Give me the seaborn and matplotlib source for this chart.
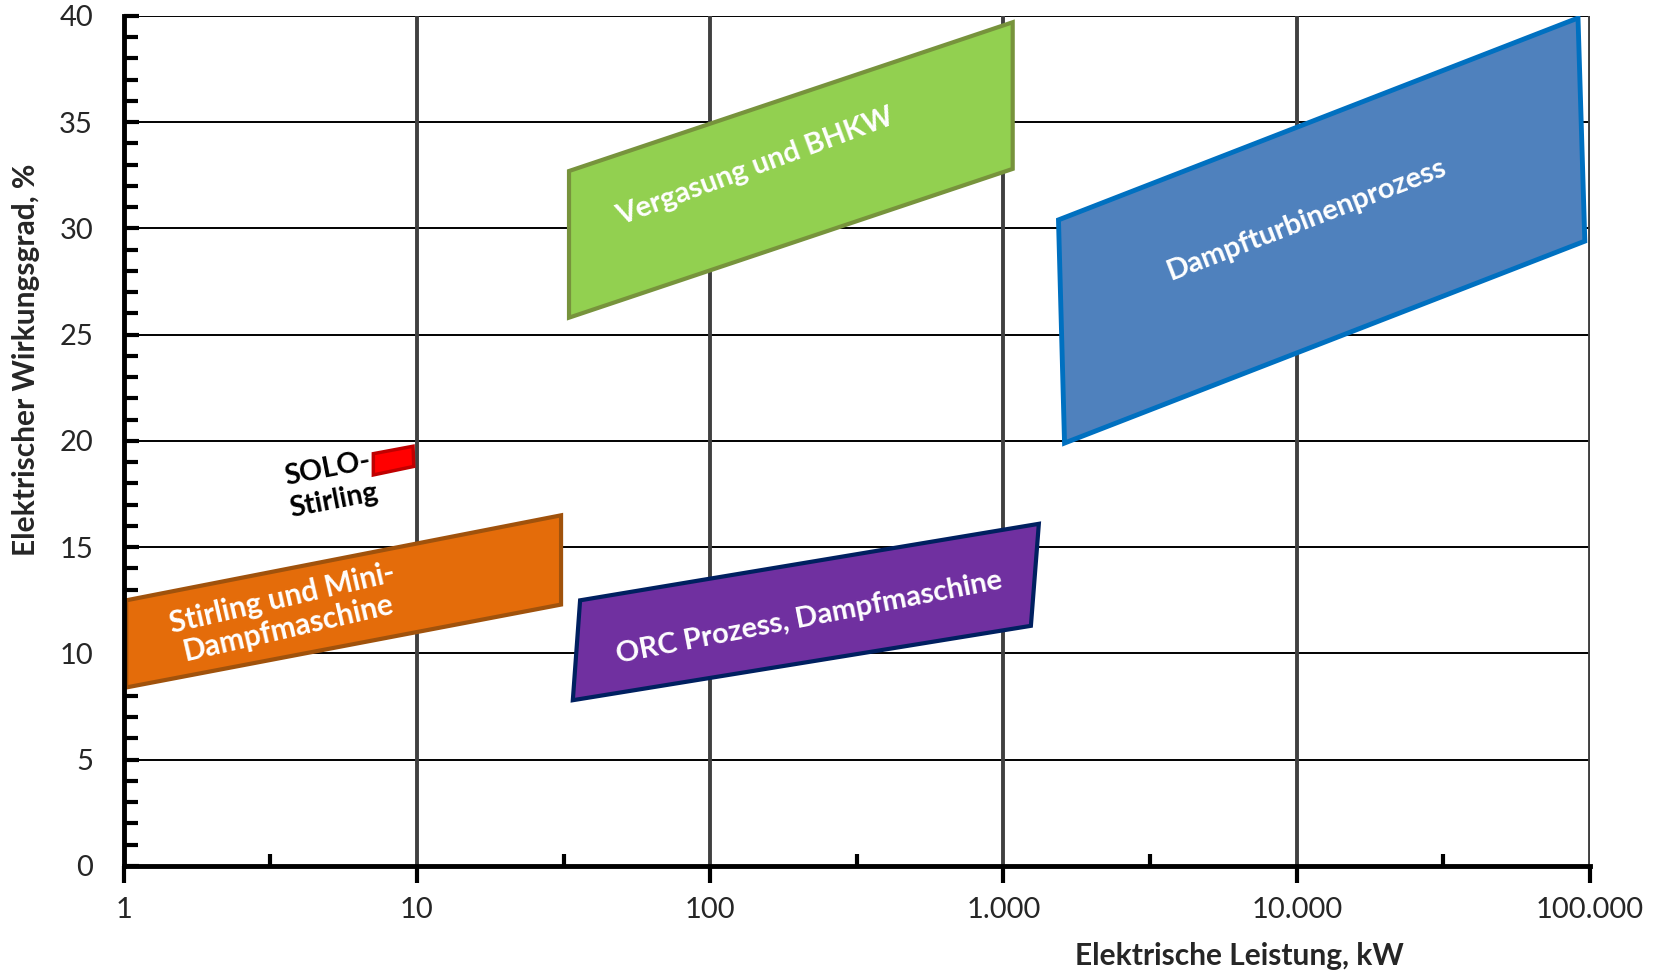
import numpy as np
import pandas as pd
import matplotlib
matplotlib.use("Agg")
import matplotlib.pyplot as plt
from matplotlib.ticker import FixedLocator, NullFormatter
import seaborn as sns

# Power range (kW) and electrical efficiency (%) of each conversion technology,
# given as the four corners of its area
stirling_kw = [1.02, 31.0, 31.0, 1.02]
stirling_eff = [12.5, 16.5, 12.3, 8.4]

vergasung_kw = [33.0, 1075.0, 1075.0, 33.0]
vergasung_eff = [32.7, 39.7, 32.8, 25.8]

dampfturbine_kw = [1540.0, 91000.0, 96000.0, 1615.0]
dampfturbine_eff = [30.4, 39.9, 29.4, 19.9]

orc_kw = [36.0, 1320.0, 1240.0, 34.0]
orc_eff = [12.5, 16.1, 11.3, 7.8]

solo_kw = [7.1, 9.7, 9.75, 7.1]
solo_eff = [19.4, 19.75, 18.8, 18.4]

x_ticks = [1, 10, 100, 1000, 10000, 100000]
x_tick_labels = ["1", "10", "100", "1.000", "10.000", "100.000"]
y_ticks = [0, 5, 10, 15, 20, 25, 30, 35, 40]

sns.set_theme(style="white")
plt.rcParams["font.family"] = ["Lato", "DejaVu Sans"]

fig = plt.figure(figsize=(16.58, 9.74), dpi=100)
ax = fig.add_axes([0.0746, 0.1109, 0.8844, 0.8728])

ax.set_xscale("log")
ax.set_xlim(1, 100000)
ax.set_ylim(0, 40)

# grid: thin black horizontals, heavier grey verticals at each decade
for y in y_ticks[1:]:
    ax.axhline(y, color="black", lw=1.4, zorder=1)
for x in x_ticks[1:]:
    ax.axvline(x, color="#404040", lw=2.8, zorder=1)

areas = pd.DataFrame({
    "name": ["Stirling", "Vergasung", "Dampfturbine", "ORC", "SOLO"],
    "kw": [stirling_kw, vergasung_kw, dampfturbine_kw, orc_kw, solo_kw],
    "eff": [stirling_eff, vergasung_eff, dampfturbine_eff, orc_eff, solo_eff],
    "face": ["#E46C0A", "#92D050", "#4F81BD", "#7030A0", "#FF0000"],
    "edge": ["#A0520C", "#77933C", "#0070C0", "#002060", "#C00000"],
    "lw": [3.0, 3.0, 3.5, 3.0, 2.5],
})
for _, r in areas.iterrows():
    ax.fill(r["kw"], r["eff"], facecolor=r["face"], edgecolor=r["edge"],
            lw=r["lw"], joinstyle="miter", zorder=3)

label_kw = dict(ha="center", va="center", rotation_mode="anchor",
                fontweight="bold", zorder=4)
ax.text(142, 32.9, "Vergasung und BHKW", rotation=20.3, color="white",
        fontsize=21, **label_kw)
ax.text(10800, 30.4, "Dampfturbinenprozess", rotation=21, color="white",
        fontsize=21, **label_kw)
ax.text(217, 11.7, "ORC Prozess, Dampfmaschine", rotation=11, color="white",
        fontsize=21, **label_kw)
ax.text(3.56, 11.9, "Stirling und Mini-\nDampfmaschine", rotation=13,
        color="white", fontsize=21.5, linespacing=1.1, **label_kw)
ax.text(5.09, 17.95, "SOLO-\nStirling", rotation=11, color="black",
        fontsize=20.5, linespacing=1.3, **label_kw)

# axes frame and ticks
for side in ("top", "right"):
    ax.spines[side].set_visible(False)
for side in ("left", "bottom"):
    ax.spines[side].set_linewidth(3.5)
    ax.spines[side].set_color("black")
    ax.spines[side].set_zorder(5)

ax.xaxis.set_major_locator(FixedLocator(x_ticks))
ax.set_xticklabels(x_tick_labels)
ax.xaxis.set_minor_locator(FixedLocator([10 ** (k + 0.5) for k in range(5)]))
ax.xaxis.set_minor_formatter(NullFormatter())
ax.tick_params(axis="x", which="major", direction="out", length=12, width=3,
               color="black", labelsize=21, pad=10, bottom=True)
ax.tick_params(axis="x", which="minor", direction="in", length=9, width=3,
               color="black", bottom=True)

ax.set_yticks(y_ticks)
ax.yaxis.set_minor_locator(FixedLocator(np.arange(0, 41, 1)))
ax.tick_params(axis="y", which="major", direction="in", length=11, width=3,
               color="black", labelsize=21, pad=22, left=True)
ax.tick_params(axis="y", which="minor", direction="in", length=10, width=3,
               color="black", left=True)

ax.set_xlabel("Elektrische Leistung, kW", fontsize=21.5, fontweight="bold")
ax.xaxis.set_label_coords(0.761, -0.09)
ax.set_ylabel("Elektrischer Wirkungsgrad, %", fontsize=21.5, fontweight="bold")
ax.yaxis.set_label_coords(-0.057, 0.595)

fig.savefig("out.png", dpi=100)
